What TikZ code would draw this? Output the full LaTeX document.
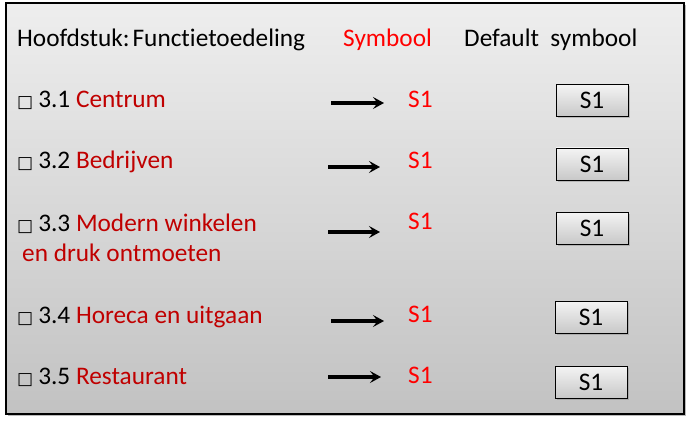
\documentclass[tikz,border=0pt]{standalone}
\usepackage{fontspec}
\setmainfont{Carlito}[Ligatures=NoCommon]
\newfontfamily\symfont{DejaVu Sans}
\usetikzlibrary{arrows.meta,shadows}
\definecolor{dred}{HTML}{C00000}
\definecolor{bred}{HTML}{FF0000}
\definecolor{pantop}{HTML}{EEEEEE}
\definecolor{panbot}{HTML}{C2C2C2}
\definecolor{boxtop}{HTML}{F4F4F4}
\definecolor{boxbot}{HTML}{C8C8C8}
\newcommand{\sq}{{\symfont\fontsize{17}{17}\selectfont□}\hspace{5pt}}
\begin{document}
\begin{tikzpicture}[x=1pt,y=-1pt,
  font=\fontsize{25.3}{30}\selectfont,
  panel/.style={draw=black,line width=1.4pt,top color=pantop,bottom color=panbot,
    minimum width=678pt,minimum height=411pt,inner sep=0pt,
    drop shadow={shadow xshift=2pt,shadow yshift=-2pt,opacity=0.45,fill=black!60}},
  lbl/.style={anchor=base west,inner sep=0pt,text=black,align=left},
  sym/.style={anchor=base west,inner sep=0pt,text=bred},
  defbox/.style={draw=black,line width=0.9pt,top color=boxtop,bottom color=boxbot,
    minimum width=72pt,minimum height=32pt,inner sep=0pt,
    drop shadow={shadow xshift=1.5pt,shadow yshift=-2pt,opacity=0.4}},
  arr/.style={line width=3.4pt,-{Stealth[length=11pt,width=12pt,inset=4.5pt]}}
]
\useasboundingbox (0,0) rectangle (690,422);
\node[panel] (panel) at (345,208.5) {};

% header
\node[lbl] (hdr) at (17,47) {Hoofdstuk:\hspace{3pt}Functietoedeling};
\node[sym] (hsym) at (343,47) {Symbool};
\node[lbl] (hdef) at (464,47) {Default~~symbool};

% row 1
\node[lbl] (l1) at (17,108) {\sq 3.1 \textcolor{dred}{Centrum}};
\coordinate (a1s) at (331,103); \coordinate (a1e) at (384,103);
\draw[arr] (a1s) -- (a1e);
\node[sym] (s1) at (408,108) {S1};
\node[defbox] (b1) at (592,100.5) {S1};

% row 2
\node[lbl] (l2) at (17,169) {\sq 3.2 \textcolor{dred}{Bedrijven}};
\coordinate (a2s) at (328,167); \coordinate (a2e) at (380,167);
\draw[arr] (a2s) -- (a2e);
\node[sym] (s2) at (408,168) {S1};
\node[defbox] (b2) at (592,164) {S1};

% row 3
\node[lbl] (l3) at (17,231) {\sq 3.3 \textcolor{dred}{Modern winkelen}};
\node[lbl,text=dred] (l3b) at (22,261) {en druk ontmoeten};
\coordinate (a3s) at (328,232); \coordinate (a3e) at (380,232);
\draw[arr] (a3s) -- (a3e);
\node[sym] (s3) at (408,229) {S1};
\node[defbox] (b3) at (592,228) {S1};

% row 4
\node[lbl] (l4) at (17,323) {\sq 3.4 \textcolor{dred}{Horeca en uitgaan}};
\coordinate (a4s) at (331,321); \coordinate (a4e) at (384,321);
\draw[arr] (a4s) -- (a4e);
\node[sym] (s4) at (408,322) {S1};
\node[defbox] (b4) at (591,317) {S1};

% row 5
\node[lbl] (l5) at (17,384) {\sq 3.5 \textcolor{dred}{Restaurant}};
\coordinate (a5s) at (328,377); \coordinate (a5e) at (381,377);
\draw[arr] (a5s) -- (a5e);
\node[sym] (s5) at (408,383) {S1};
\node[defbox] (b5) at (591,382) {S1};
\end{tikzpicture}
\end{document}
